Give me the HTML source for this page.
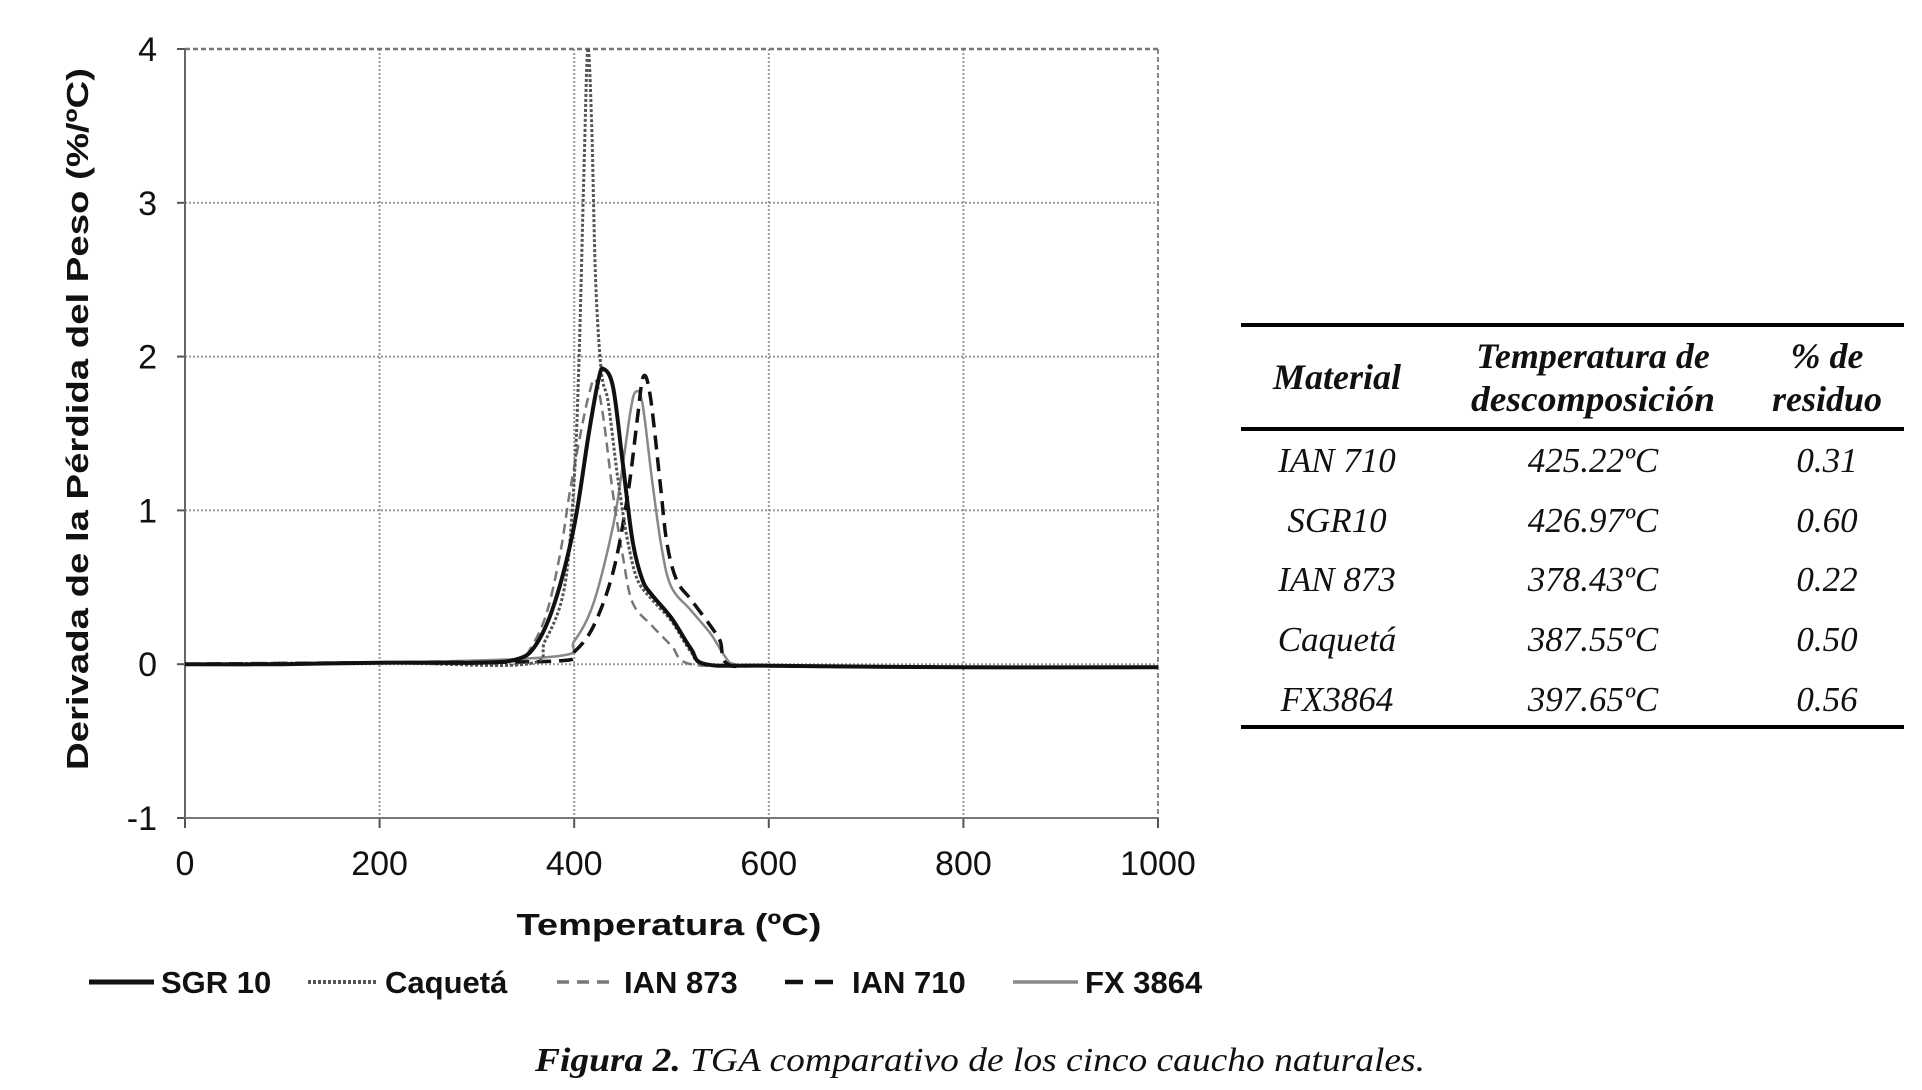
<!DOCTYPE html>
<html><head><meta charset="utf-8"><style>
html,body{margin:0;padding:0;background:#fff;width:1922px;height:1090px;overflow:hidden}
svg{display:block}
.ax{font-family:"Liberation Sans",sans-serif;font-size:31px;fill:#111}
.tk{font-family:"Liberation Sans",sans-serif;font-size:34px;fill:#111}
.tb{font-family:"Liberation Serif",serif;font-style:italic;fill:#111}
</style></head><body>
<svg id="chart" width="1922" height="1090">
<g id="grid"></g>
<g id="axes"></g>
<g id="series"></g>
<text class="ax" x="669" y="935" text-anchor="middle" font-weight="bold" font-size="34" textLength="305" lengthAdjust="spacingAndGlyphs">Temperatura (ºC)</text>
<text class="ax" transform="translate(88,419) rotate(-90)" text-anchor="middle" font-weight="bold" font-size="32" textLength="702" lengthAdjust="spacingAndGlyphs">Derivada de la Pérdida del Peso (%/ºC)</text>
<g id="legend"></g>
<g transform="translate(-6,-2)">
<line x1="1247" y1="327" x2="1910" y2="327" stroke="#000" stroke-width="4"/>
<line x1="1247" y1="431" x2="1910" y2="431" stroke="#000" stroke-width="4"/>
<line x1="1247" y1="729" x2="1910" y2="729" stroke="#000" stroke-width="4"/>
<g class="tb" font-weight="bold" font-size="36" text-anchor="middle">
<text x="1343" y="391">Material</text>
<text x="1599" y="370">Temperatura de</text>
<text x="1599" y="413" textLength="244" lengthAdjust="spacingAndGlyphs">descomposición</text>
<text x="1833" y="370">% de</text>
<text x="1833" y="413">residuo</text>
</g>
<g id="rows" class="tb" font-size="35" text-anchor="middle"></g>
</g>
<text class="tb" x="980" y="1071" text-anchor="middle" font-size="34" textLength="890" lengthAdjust="spacingAndGlyphs"><tspan font-weight="bold">Figura 2.</tspan> TGA comparativo de los cinco caucho naturales.</text>
</svg>
<script>
const xTicks=[0,200,400,600,800,1000];
const yTicks=[-1,0,1,2,3,4];
const sgrX=[0,100,200,300,340,360,380,400,415,425,430,440,450,460,470,480,500,520,535,600,800,1000];
const sgrY=[0,0,0.01,0.01,0.03,0.12,0.4,0.9,1.5,1.85,1.92,1.8,1.3,0.8,0.55,0.45,0.3,0.1,0,-0.01,-0.02,-0.02];
const caqX=[0,200,350,370,390,400,405,410,414,418,422,428,435,445,455,465,480,500,520,535,600,800,1000];
const caqY=[0,0.01,0,0.15,0.5,1.2,2.0,3.2,4.1,3.5,2.5,1.9,1.7,1.2,0.8,0.55,0.42,0.28,0.08,0,-0.01,-0.02,-0.02];
const i873X=[0,200,340,350,370,385,395,405,415,422,430,440,450,460,480,500,520,600,800,1000];
const i873Y=[0,0.01,0.02,0.05,0.3,0.7,1.1,1.45,1.75,1.85,1.6,1.1,0.7,0.4,0.25,0.12,0,-0.01,-0.02,-0.02];
const i710X=[0,200,380,400,420,440,455,465,471,478,488,495,505,520,540,550,558,600,800,1000];
const i710Y=[0,0.01,0.02,0.08,0.25,0.6,1.1,1.6,1.87,1.75,1.2,0.8,0.55,0.42,0.25,0.15,0,-0.01,-0.02,-0.02];
const fxX=[0,200,380,400,420,440,450,458,463,470,480,490,500,520,540,555,565,600,800,1000];
const fxY=[0,0.01,0.05,0.15,0.4,0.9,1.3,1.65,1.77,1.7,1.2,0.75,0.5,0.35,0.2,0.05,0,-0.01,-0.02,-0.02];
const legendNames=["SGR 10","Caquetá","IAN 873","IAN 710","FX 3864"];
const tMaterials=["IAN 710","SGR10","IAN 873","Caquetá","FX3864"];
const tTemps=["425.22ºC","426.97ºC","378.43ºC","387.55ºC","397.65ºC"];
const tResidue=["0.31","0.60","0.22","0.50","0.56"];

const NS="http://www.w3.org/2000/svg";
const X0=185,X1=1158,YT=49,YB=818,YMIN=-1,YMAX=4;
const sx=v=>X0+(v-0)/(1000-0)*(X1-X0);
const sy=v=>{const c=Math.min(v,YMAX);return YB-(c-YMIN)/(YMAX-YMIN)*(YB-YT);};
function mk(tag,attrs,parent){const e=document.createElementNS(NS,tag);for(const k in attrs)e.setAttribute(k,attrs[k]);parent.appendChild(e);return e;}
function smooth(pts){
  let d='M'+pts[0][0].toFixed(1)+','+pts[0][1].toFixed(1);
  for(let i=0;i<pts.length-1;i++){
    const p0=pts[Math.max(0,i-1)],p1=pts[i],p2=pts[i+1],p3=pts[Math.min(pts.length-1,i+2)];
    const t=1/6;
    const c1=[p1[0]+(p2[0]-p0[0])*t,p1[1]+(p2[1]-p0[1])*t];
    const c2=[p2[0]-(p3[0]-p1[0])*t,p2[1]-(p3[1]-p1[1])*t];
    d+=' C'+c1.map(v=>v.toFixed(1)).join(',')+' '+c2.map(v=>v.toFixed(1)).join(',')+' '+p2.map(v=>v.toFixed(1)).join(',');
  }
  return d;
}
const grid=document.getElementById('grid'),axes=document.getElementById('axes'),series=document.getElementById('series');
xTicks.forEach(t=>{
  if(t>0&&t<1000){const l=mk('line',{x1:sx(t),y1:YT,x2:sx(t),y2:YB,stroke:'#999','stroke-width':2,'stroke-dasharray':'2 2'},grid);
  
  }
  const tk=mk('line',{x1:sx(t),y1:YB,x2:sx(t),y2:YB+10,stroke:'#555','stroke-width':2},axes);
  
  
  const tx=mk('text',{x:sx(t),y:YB+57,'text-anchor':'middle',class:'tk'},axes);tx.textContent=t;
  
  
});
yTicks.forEach(t=>{
  if(t>-1&&t<4){const l=mk('line',{x1:X0,y1:sy(t),x2:X1,y2:sy(t),stroke:'#999','stroke-width':2,'stroke-dasharray':'2 2'},grid);
  
  }
  const tk=mk('line',{x1:X0-8,y1:sy(t),x2:X0,y2:sy(t),stroke:'#555','stroke-width':2},axes);
  
  
  const tx=mk('text',{x:X0-28,y:sy(t)+12,'text-anchor':'end',class:'tk'},axes);tx.textContent=t;
  
  
});
mk('line',{x1:X0,y1:YT,x2:X1,y2:YT,stroke:'#777','stroke-width':2.5,'stroke-dasharray':'5 3'},axes);
mk('line',{x1:X1,y1:YT,x2:X1,y2:YB,stroke:'#888','stroke-width':2,'stroke-dasharray':'5 3'},axes);
mk('line',{x1:X0,y1:YT,x2:X0,y2:YB,stroke:'#666','stroke-width':2},axes);
mk('line',{x1:X0,y1:YB,x2:X1,y2:YB,stroke:'#777','stroke-width':2},axes);
const styles=[
 {c:'#111',w:4,d:''},{c:'#555',w:3,d:'3 2'},{c:'#777',w:2.5,d:'10 6'},{c:'#111',w:3.5,d:'14 8'},{c:'#888',w:2.5,d:''}];
const xsArr=[sgrX,caqX,i873X,i710X,fxX],ysArr=[sgrY,caqY,i873Y,i710Y,fxY];
const order=[4,2,3,1,0];
order.forEach(i=>{
  const xs=xsArr[i],ys=ysArr[i];
  const pts=xs.map((v,j)=>[sx(v),sy(ys[j])]);
  const p=mk('path',{d:smooth(pts),fill:'none',stroke:styles[i].c,'stroke-width':styles[i].w,'stroke-dasharray':styles[i].d,'stroke-linejoin':'round'},series);
  
  
});
const leg=document.getElementById('legend');
const lx=[89,308,557,785,1013],lw=[65,70,60,60,65];
legendNames.forEach((n,i)=>{
  const l=mk('line',{x1:lx[i],y1:982,x2:lx[i]+lw[i],y2:982,stroke:styles[i].c,'stroke-width':styles[i].w+1,'stroke-dasharray':i==1?'3 2':(i==2?'12 8':(i==3?'18 12':''))},leg);
  
  
  const t=mk('text',{x:lx[i]+lw[i]+7,y:993,class:'ax','font-weight':'bold','font-size':29,fill:i>=2&&i!=3?'#777':'#111'},leg);
  t.textContent=n;
  
  
});
const rows=document.getElementById('rows');
const ry=[474,534,593,653,713];
tMaterials.forEach((m,i)=>{
  [[1343,m],[1599,tTemps[i]],[1833,tResidue[i]]].forEach(([x,s])=>{
    const t=mk('text',{x:x,y:ry[i]},rows);t.textContent=s;
    
    
  });
});
</script>
</body></html>
